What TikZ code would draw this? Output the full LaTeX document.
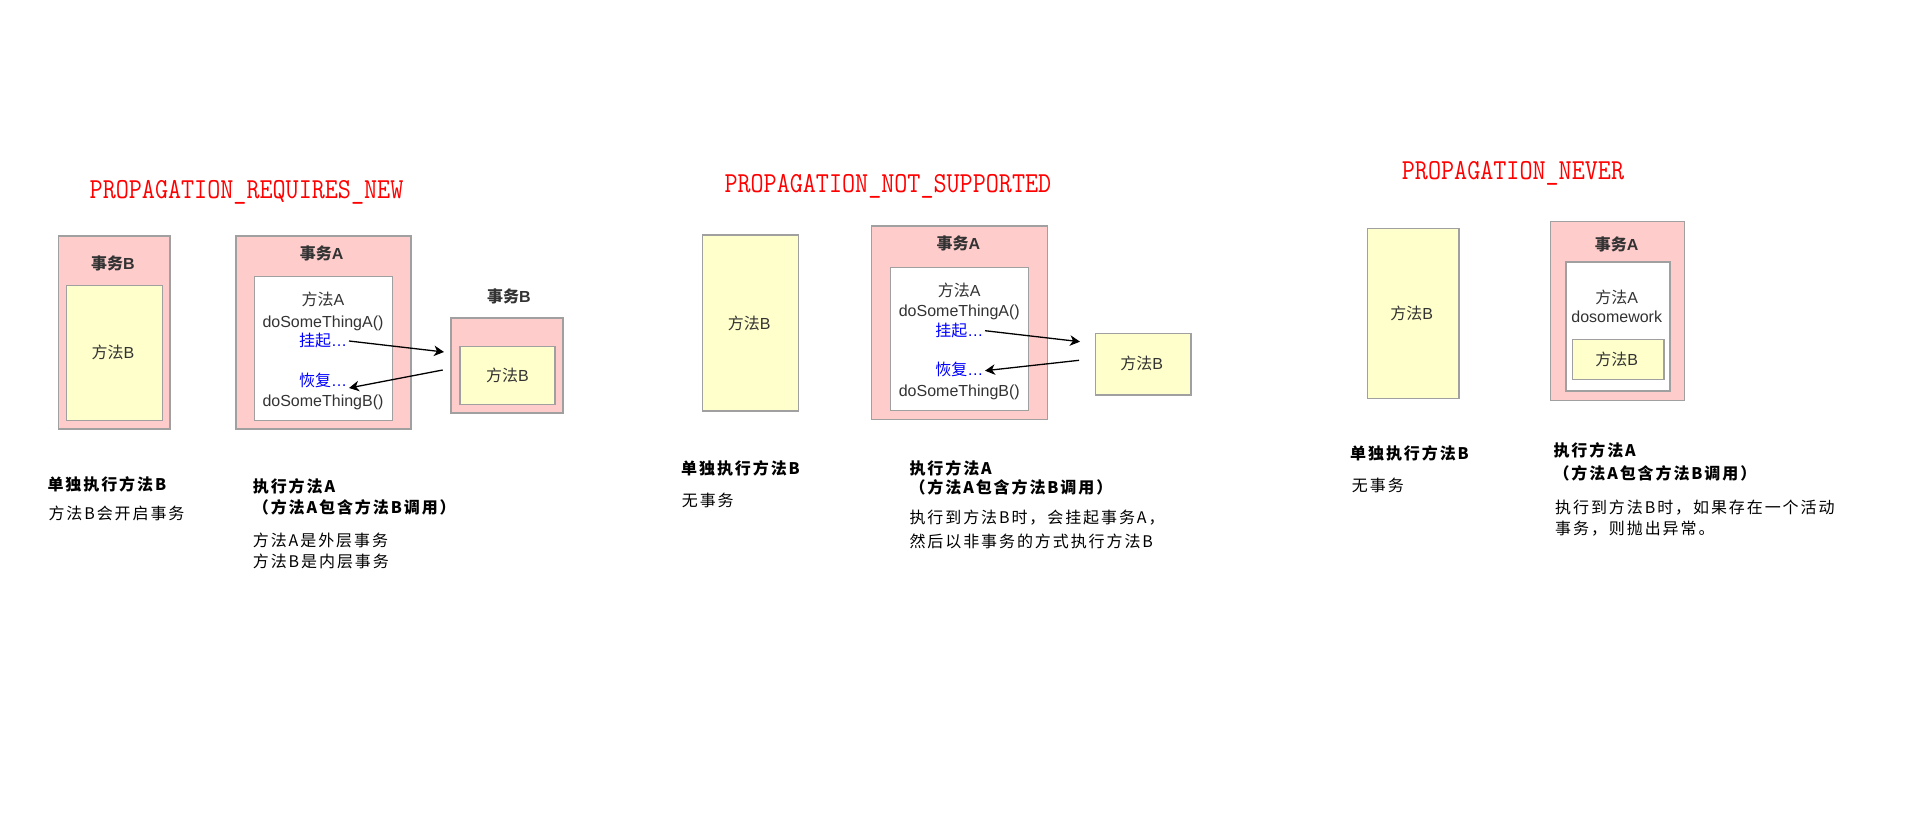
\documentclass[tikz,border=0pt]{standalone}
\usepackage{fontspec}
\setmainfont{Liberation Sans}
\newfontfamily\zhfont{Noto Sans CJK SC}
\newfontfamily\zhtxt[LetterSpace=12]{Noto Sans CJK SC}
\newfontfamily\ttlfont[FakeStretch=0.875]{Latin Modern Mono}
\usetikzlibrary{arrows.meta}
\newcommand{\zh}[1]{{\zhfont #1}}
\definecolor{pinkf}{HTML}{FFCCCC}
\definecolor{yelf}{HTML}{FFFFCC}
\definecolor{edgec}{HTML}{A0A0A0}
\definecolor{txtc}{HTML}{333333}
\definecolor{bluet}{HTML}{0000FF}
\definecolor{titlered}{HTML}{FF0000}
\begin{document}
\begin{tikzpicture}[x=1pt,y=-1pt,
  boxbase/.style={draw=edgec, line width=1.5pt, inner sep=0pt, outer sep=0pt},
  pinkbox/.style={boxbase, fill=pinkf},
  yelbox/.style={boxbase, fill=yelf},
  whitebox/.style={boxbase, fill=white},
  lbl/.style={anchor=base, inner sep=0pt, text=txtc, font=\fontsize{16}{19}\selectfont},
  lblb/.style={lbl, font=\bfseries\fontsize{16}{19}\selectfont},
  lblblue/.style={lbl, text=bluet},
  ttl/.style={anchor=base west, inner sep=0pt, text=titlered, font=\ttlfont\fontsize{29}{32}\selectfont},
  note/.style={anchor=base west, inner sep=0pt, text=black, font=\zhtxt\fontsize{16}{20}\selectfont},
  noteb/.style={note, font=\zhtxt\bfseries\fontsize{16}{20}\selectfont},
  arr/.style={-{Stealth[length=10pt,width=10.5pt,inset=3pt]}, line width=1.3pt, black}
]
\useasboundingbox (0,0) rectangle (1913,822);
\fill[white] (0,0) rectangle (1913,822);

% ---------- titles ----------
\node[ttl] (t1) at (89.5,198.5) {PROPAGATION\_REQUIRES\_NEW};
\node[ttl] (t2) at (724.3,192.5) {PROPAGATION\_NOT\_SUPPORTED};
\node[ttl] (t3) at (1401.7,179.2) {PROPAGATION\_NEVER};

% ---------- section 1 ----------
\node[pinkbox, minimum width=111.7, minimum height=193.3] (s1bo) at (114.2,332.4) {};
\node[yelbox, minimum width=95.6, minimum height=135] (s1bi) at (114.5,353.2) {};
\node[lblb] (s1bt) at (113,269) {\zh{事务}B};
\node[lbl] (s1bm) at (113,358.6) {\zh{方法}B};

\node[pinkbox, minimum width=175, minimum height=193.3] (s1ao) at (323.5,332.4) {};
\node[whitebox, minimum width=138, minimum height=144] (s1ai) at (323.3,348.7) {};
\node[lblb] (s1at) at (321.7,259.3) {\zh{事务}A};
\node[lbl] (s1l1) at (323,305) {\zh{方法}A};
\node[lbl] (s1l2) at (323,327) {doSomeThingA()};
\node[lblblue] (s1l3) at (323,346) {\zh{挂起}…};
\node[lblblue] (s1l4) at (323,386) {\zh{恢复}…};
\node[lbl] (s1l5) at (323,406) {doSomeThingB()};

\node[pinkbox, minimum width=112, minimum height=95] (s1co) at (507,365.5) {};
\node[yelbox, minimum width=95, minimum height=57.6] (s1ci) at (507.5,375.5) {};
\node[lblb] (s1ct) at (509,302.7) {\zh{事务}B};
\node[lbl] (s1cm) at (507.5,381.5) {\zh{方法}B};

\coordinate (s1a1s) at (349,341);
\coordinate (s1a1e) at (444,352);
\coordinate (s1a2s) at (442.7,370);
\coordinate (s1a2e) at (349,388);
\draw[arr] (s1a1s) -- (s1a1e);
\draw[arr] (s1a2s) -- (s1a2e);

\node[noteb] (s1n1) at (47.3,490) {单独执行方法B};
\node[note] (s1n2) at (48.3,519.3) {方法B会开启事务};
\node[noteb] (s1n3) at (252.7,492.7) {执行方法A};
\node[noteb] (s1n4) at (252.7,513.3) {（方法A包含方法B调用）};
\node[note] (s1n5) at (252.7,546) {方法A是外层事务};
\node[note] (s1n6) at (252.7,567.7) {方法B是内层事务};

% ---------- section 2 ----------
\node[yelbox, minimum width=95.6, minimum height=176.3] (s2b) at (750.5,322.9) {};
\node[lbl] (s2bm) at (749.3,329.3) {\zh{方法}B};

\node[pinkbox, minimum width=175.6, minimum height=193.3] (s2ao) at (959.5,322.7) {};
\node[whitebox, minimum width=137.6, minimum height=143.4] (s2ai) at (959.5,339) {};
\node[lblb] (s2at) at (958.3,249.3) {\zh{事务}A};
\node[lbl] (s2l1) at (959.3,296) {\zh{方法}A};
\node[lbl] (s2l2) at (959.3,316.7) {doSomeThingA()};
\node[lblblue] (s2l3) at (959.3,336) {\zh{挂起}…};
\node[lblblue] (s2l4) at (959.3,375.3) {\zh{恢复}…};
\node[lbl] (s2l5) at (959.3,396) {doSomeThingB()};

\node[yelbox, minimum width=95.3, minimum height=61.7] (s2c) at (1143.3,364.2) {};
\node[lbl] (s2cm) at (1141.7,369.3) {\zh{方法}B};

\coordinate (s2a1s) at (985,330.7);
\coordinate (s2a1e) at (1080,341.7);
\coordinate (s2a2s) at (1079,360.3);
\coordinate (s2a2e) at (985,370.7);
\draw[arr] (s2a1s) -- (s2a1e);
\draw[arr] (s2a2s) -- (s2a2e);

\node[noteb] (s2n1) at (681,474.3) {单独执行方法B};
\node[note] (s2n2) at (681.7,506) {无事务};
\node[noteb] (s2n3) at (909.3,474.3) {执行方法A};
\node[noteb] (s2n4) at (909.3,493.7) {（方法A包含方法B调用）};
\node[note] (s2n5) at (909.3,523.7) {执行到方法B时，会挂起事务A，};
\node[note] (s2n6) at (909.3,547.7) {然后以非事务的方式执行方法B};

% ---------- section 3 ----------
\node[yelbox, minimum width=91.7, minimum height=170] (s3b) at (1413.2,313.7) {};
\node[lbl] (s3bm) at (1411.7,319.3) {\zh{方法}B};

\node[pinkbox, minimum width=133.6, minimum height=179] (s3ao) at (1617.5,311.2) {};
\node[whitebox, minimum width=104.3, minimum height=129.3] (s3ai) at (1617.9,326.4) {};
\node[lblb] (s3at) at (1616.7,250) {\zh{事务}A};
\node[lbl] (s3l1) at (1616.7,303.7) {\zh{方法}A};
\node[lbl] (s3l2) at (1616.7,322.7) {dosomework};
\node[yelbox, minimum width=91.7, minimum height=39.6] (s3c) at (1618.2,359.5) {};
\node[lbl] (s3cm) at (1616.7,365.3) {\zh{方法}B};

\node[noteb] (s3n1) at (1350,459.3) {单独执行方法B};
\node[note] (s3n2) at (1351.7,491) {无事务};
\node[noteb] (s3n3) at (1553.3,456.7) {执行方法A};
\node[noteb] (s3n4) at (1553.3,479.3) {（方法A包含方法B调用）};
\node[note] (s3n5) at (1555,513.3) {执行到方法B时，如果存在一个活动};
\node[note] (s3n6) at (1555,534.3) {事务，则抛出异常。};
\end{tikzpicture}
\end{document}
